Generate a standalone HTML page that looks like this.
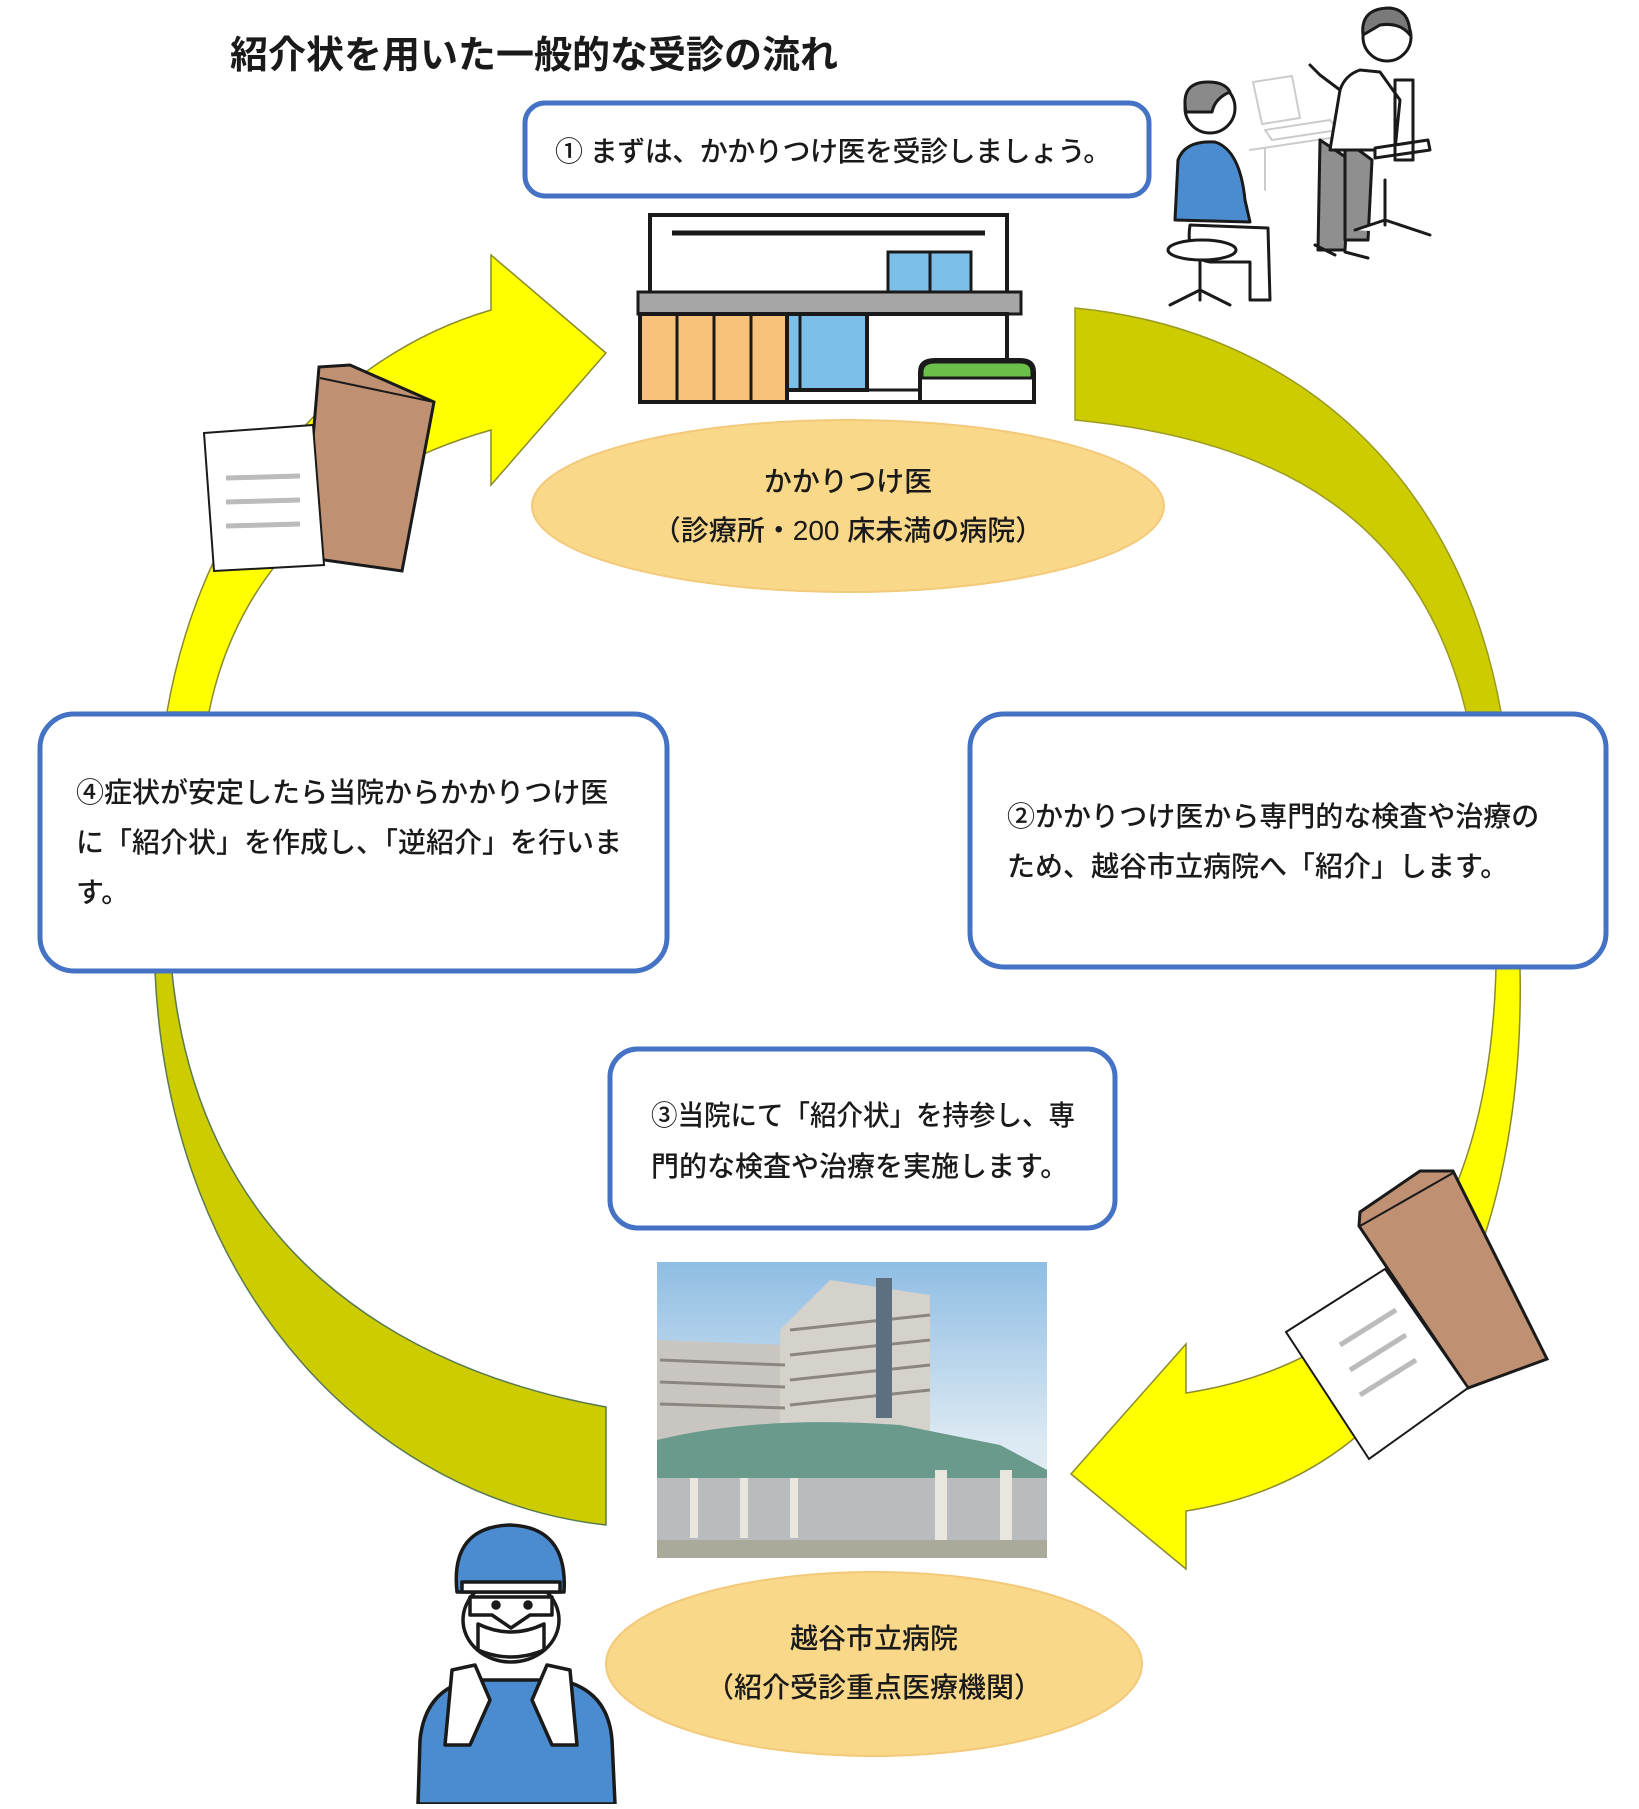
<!DOCTYPE html>
<html><head><meta charset="utf-8">
<style>
html,body{margin:0;padding:0;background:#fff;}
body{width:1639px;height:1804px;overflow:hidden;}
svg text{font-family:"Liberation Sans","Noto Sans CJK JP",sans-serif;fill:#1a1a1a;font-weight:500;}
</style></head>
<body>
<svg width="1639" height="1804" viewBox="0 0 1639 1804" xmlns="http://www.w3.org/2000/svg">
<text x="230" y="68" font-size="38" font-weight="bold" style="font-weight:bold">紹介状を用いた一般的な受診の流れ</text>

<path d="M1075,308 C1300,330 1460,480 1501,712 L1466,712 C1420,520 1280,440 1075,420 Z" fill="#cccc00" stroke="#9a9a20" stroke-width="1.5"/>
<path d="M1496,968 C1490,1200 1400,1360 1186,1393 L1186,1344 L1071,1474 L1186,1569 L1186,1511 C1450,1470 1525,1200 1520,968 Z" fill="#ffff00" stroke="#8a8a30" stroke-width="1.5"/>
<path d="M155,972 C170,1300 380,1500 606,1525 L606,1407 C400,1370 200,1250 172,972 Z" fill="#cccc00" stroke="#5a7a50" stroke-width="1.5"/>
<path d="M167,712 C200,520 320,360 491,310 L491,255 L606,353 L491,485 L491,430 C350,470 240,560 209,712 Z" fill="#ffff00" stroke="#8a8a30" stroke-width="1.5"/>

<rect x="525" y="103" width="624" height="93" rx="20" fill="#fff" stroke="#4472c4" stroke-width="5"/>
<text x="555" y="161" font-size="28" letter-spacing="-0.5">①  まずは、かかりつけ医を受診しましょう。</text>

<g stroke="#1a1a1a" stroke-width="4">
<rect x="650" y="215" width="357" height="80" fill="#fff"/>
<line x1="672" y1="233" x2="985" y2="233" stroke-width="5"/>
<rect x="888" y="252" width="83" height="43" fill="#7cbfe8" stroke-width="3"/>
<line x1="930" y1="252" x2="930" y2="295" stroke-width="3"/>
<rect x="638" y="292" width="383" height="22" fill="#a6a6a6" stroke-width="3"/>
<rect x="650" y="314" width="357" height="88" fill="#fff"/>
<rect x="640" y="314" width="147" height="88" fill="#f9c27a"/>
<line x1="677" y1="314" x2="677" y2="402" stroke-width="3"/>
<line x1="714" y1="314" x2="714" y2="402" stroke-width="3"/>
<line x1="751" y1="314" x2="751" y2="402" stroke-width="3"/>
<rect x="787" y="314" width="80" height="76" fill="#7cbfe8"/>
<line x1="800" y1="314" x2="800" y2="390" stroke-width="3"/>
<line x1="787" y1="390" x2="920" y2="390" stroke-width="3"/>
<path d="M920,402 L920,372 Q920,360 935,360 L1020,360 Q1034,360 1034,372 L1034,402 Z" fill="#fff"/>
<path d="M922,378 L922,372 Q922,362 935,362 L1020,362 Q1032,362 1032,372 L1032,378 Z" fill="#6cc04a" stroke-width="3"/>
<line x1="638" y1="402" x2="1036" y2="402"/>
</g>

<ellipse cx="848" cy="506" rx="316" ry="86" fill="#f9d88a" stroke="#f3c97a" stroke-width="2"/>
<text x="848" y="491" font-size="28" text-anchor="middle">かかりつけ医</text>
<text x="848" y="540" font-size="28" text-anchor="middle">（診療所・200 床未満の病院）</text>

<g stroke="#1a1a1a" stroke-width="3" fill="#fff" stroke-linecap="round" stroke-linejoin="round">
<g stroke="#ccc" stroke-width="2" fill="none">
<path d="M1253,82 L1292,76 L1300,118 L1262,124 Z"/><path d="M1265,130 L1330,120 L1338,130 L1272,140 Z"/>
<path d="M1250,150 L1350,135 M1265,148 L1265,190"/>
</g>
<path d="M1190,225 Q1185,258 1210,262 L1250,262 L1250,300 L1270,300 L1268,228 Z"/>
<ellipse cx="1202" cy="250" rx="34" ry="10"/>
<path d="M1200,260 L1200,300 M1170,305 L1200,290 L1230,305"/>
<path d="M1175,220 L1178,160 Q1185,140 1215,142 Q1240,150 1245,200 L1250,222 Z" fill="#4a8ccf"/>
<circle cx="1210" cy="108" r="25" fill="#fff"/>
<path d="M1186,112 Q1180,82 1208,82 Q1225,82 1230,92 Q1215,98 1212,112 Z" fill="#8a8a8a"/>
<path d="M1320,140 L1318,250 L1345,250 L1350,160 Z" fill="#8f8f8f"/>
<path d="M1345,140 L1345,240 L1368,240 L1372,160 Z" fill="#8f8f8f"/>
<path d="M1360,150 L1395,150 L1400,100 L1380,72 L1360,70 Q1345,75 1340,90 L1330,150 Z"/>
<path d="M1315,245 L1335,255 M1345,252 L1368,258"/>
<path d="M1385,180 L1385,225 M1355,230 L1385,220 L1430,235"/>
<path d="M1375,158 L1430,150 L1428,140 L1375,148 Z"/>
<rect x="1395" y="80" width="18" height="80" fill="none"/>
<path d="M1340,90 L1320,75 L1310,65"/>
<circle cx="1387" cy="37" r="24"/>
<path d="M1363,35 Q1360,8 1390,8 Q1410,10 1410,35 Q1400,22 1380,25 Z" fill="#7a7a7a"/>
</g>

<rect x="970" y="714" width="636" height="253" rx="34" fill="#fff" stroke="#4472c4" stroke-width="5"/>
<text x="1007" y="826" font-size="28">②かかりつけ医から専門的な検査や治療の</text>
<text x="1007" y="876" font-size="28">ため、越谷市立病院へ「紹介」します。</text>

<rect x="40" y="714" width="627" height="257" rx="34" fill="#fff" stroke="#4472c4" stroke-width="5"/>
<text x="76" y="802" font-size="28">④症状が安定したら当院からかかりつけ医</text>
<text x="76" y="852" font-size="28">に「紹介状」を作成し、「逆紹介」を行いま</text>
<text x="76" y="902" font-size="28">す。</text>

<rect x="610" y="1049" width="505" height="179" rx="28" fill="#fff" stroke="#4472c4" stroke-width="5"/>
<text x="651" y="1125" font-size="28" textLength="424" lengthAdjust="spacingAndGlyphs">③当院にて「紹介状」を持参し、専</text>
<text x="651" y="1176" font-size="28">門的な検査や治療を実施します。</text>

<g stroke="#1a1a1a" stroke-width="3">
<path d="M319,367 L350,365 L434,402 L402,571 L303,557 Z" fill="#bf9072"/>
<path d="M320,378 L434,402" fill="none" stroke-width="2"/>
<path d="M204,433 L313,425 L324,565 L214,571 Z" fill="#fff" stroke-width="2"/>
<g stroke="#bbb" stroke-width="5"><line x1="226" y1="478" x2="300" y2="476"/><line x1="226" y1="502" x2="300" y2="500"/><line x1="226" y1="526" x2="300" y2="524"/></g>
</g>

<g stroke="#1a1a1a" stroke-width="3">
<path d="M1359,1226 L1360,1212 L1420,1171 L1453,1171 L1547,1359 L1468,1388 Z" fill="#bf9072"/>
<path d="M1360,1226 L1453,1173" fill="none" stroke-width="2"/>
<path d="M1286,1332 L1385,1269 L1468,1388 L1369,1459 Z" fill="#fff" stroke-width="2"/>
<g stroke="#bbb" stroke-width="5"><line x1="1340" y1="1345" x2="1396" y2="1310"/><line x1="1350" y1="1370" x2="1406" y2="1335"/><line x1="1360" y1="1395" x2="1416" y2="1360"/></g>
</g>

<defs>
<linearGradient id="sky" x1="0" y1="0" x2="0" y2="1"><stop offset="0" stop-color="#8fbde3"/><stop offset="0.6" stop-color="#dbe9f3"/><stop offset="1" stop-color="#eef2f4"/></linearGradient>
</defs>
<rect x="657" y="1262" width="390" height="296" fill="url(#sky)"/>
<path d="M657,1340 L790,1345 L790,1440 L657,1440 Z" fill="#c9c6c1"/>
<path d="M780,1330 L830,1280 L930,1295 L930,1440 L780,1440 Z" fill="#d5d1cb"/>
<g stroke="#8b8680" stroke-width="3">
<line x1="660" y1="1360" x2="785" y2="1365"/><line x1="660" y1="1382" x2="785" y2="1387"/><line x1="660" y1="1404" x2="785" y2="1408"/>
<line x1="790" y1="1330" x2="930" y2="1315"/><line x1="790" y1="1355" x2="930" y2="1340"/><line x1="790" y1="1380" x2="930" y2="1365"/><line x1="790" y1="1405" x2="930" y2="1390"/>
</g>
<rect x="876" y="1278" width="16" height="140" fill="#5d7080"/>
<path d="M657,1440 Q760,1415 900,1425 L1000,1445 L1047,1470 L1047,1480 L657,1480 Z" fill="#6a9a8c"/>
<rect x="657" y="1478" width="390" height="65" fill="#b9bcbf"/>
<g fill="#e9e6e0"><rect x="690" y="1478" width="8" height="60"/><rect x="740" y="1478" width="8" height="60"/><rect x="790" y="1478" width="8" height="60"/><rect x="935" y="1470" width="12" height="70"/><rect x="1000" y="1470" width="12" height="70"/></g>
<rect x="657" y="1540" width="390" height="18" fill="#a9aa9a"/>

<ellipse cx="874" cy="1664" rx="268" ry="92" fill="#f9d88a" stroke="#f3c97a" stroke-width="2"/>
<text x="874" y="1648" font-size="28" text-anchor="middle">越谷市立病院</text>
<text x="874" y="1697" font-size="28" text-anchor="middle">（紹介受診重点医療機関）</text>

<g stroke="#1a1a1a" stroke-width="3.5" stroke-linejoin="round">
<path d="M418,1804 L420,1740 Q425,1690 470,1680 L560,1680 Q608,1690 612,1740 L615,1804 Z" fill="#4a8ccf"/>
<ellipse cx="511" cy="1620" rx="48" ry="42" fill="#fff"/>
<path d="M457,1592 Q450,1527 510,1525 Q568,1527 564,1592 Z" fill="#4a8ccf"/>
<path d="M462,1582 L560,1582 L560,1592 L462,1592 Z" fill="#fff"/>
<path d="M470,1597 L552,1597 L552,1615 L530,1615 L511,1628 L492,1615 L470,1615 Z" fill="#fff"/>
<circle cx="496" cy="1605" r="3" fill="#1a1a1a"/><circle cx="528" cy="1605" r="3" fill="#1a1a1a"/>
<path d="M478,1624 Q511,1640 544,1624 L544,1650 Q511,1664 478,1650 Z" fill="#fff"/>
<path d="M452,1670 L475,1665 L490,1700 L470,1745 L445,1745 Z" fill="#fff"/>
<path d="M570,1670 L547,1665 L532,1700 L552,1745 L577,1745 Z" fill="#fff"/>
</g>
</svg>
</body></html>
